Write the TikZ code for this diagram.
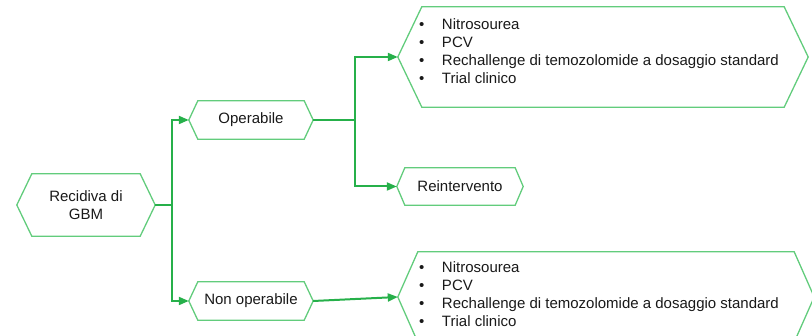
\documentclass[tikz,border=0pt]{standalone}
\usepackage{fontspec}
\setmainfont{Liberation Sans}
\usetikzlibrary{arrows.meta}
\definecolor{linegreen}{RGB}{38,176,74}
\definecolor{boxgreen}{RGB}{98,204,124}
\definecolor{textgray}{RGB}{25,25,25}
\newcommand\hexframe[2]{\draw[boxline] (#1.west) -- ([xshift=#2]#1.north west) -- ([xshift=-#2]#1.north east) -- (#1.east) -- ([xshift=-#2]#1.south east) -- ([xshift=#2]#1.south west) -- cycle;}
\newcommand\bul{\makebox[23pt][l]{\textbullet}}
\tikzset{
	hexnode/.style={inner sep=0pt, font=\fontsize{15}{18}\selectfont, text=textgray, align=center},
	conn/.style={draw=linegreen, line width=2pt},
	connarrow/.style={conn, -{Triangle[length=10pt,width=8pt]}},
	boxline/.style={draw=boxgreen, line width=1.3pt, line join=miter}
}

\begin{document}
\begin{tikzpicture}[x=1pt,y=-1pt]
				%%%%% START %%%%%
				\def\xsplitone{172}
				\def\xsplittwo{355}
				\useasboundingbox (0,0) rectangle (812,336);
				
				\node[hexnode, minimum width=138pt, minimum height=62pt] (recidiva) at (86,205) {Recidiva di\\GBM};
				\hexframe{recidiva}{15pt}
				
				\node[hexnode, minimum width=124pt, minimum height=38pt] (operabile) at (251,120) {Operabile};
				\hexframe{operabile}{9pt}
				\node[hexnode, minimum width=124pt, minimum height=38pt] (nonoperabile) at (251,301) {Non operabile};
				\hexframe{nonoperabile}{9pt}
				
				\node[hexnode, minimum width=410pt, minimum height=100pt] (terapieop) at (603,57) {\parbox[c][76pt][t]{368pt}{\raggedright\bul Nitrosourea\\\bul PCV\\\bul Rechallenge di temozolomide a dosaggio standard\\\bul Trial clinico}};
				\hexframe{terapieop}{24pt}
				\node[hexnode, minimum width=126pt, minimum height=37pt] (reintervento) at (460,186.5) {Reintervento};
				\hexframe{reintervento}{8pt}
				\node[hexnode, minimum width=416pt, minimum height=90pt] (terapienonop) at (606,297) {\parbox[c][70pt][t]{374pt}{\raggedright\bul Nitrosourea\\\bul PCV\\\bul Rechallenge di temozolomide a dosaggio standard\\\bul Trial clinico}};
				\hexframe{terapienonop}{20pt}
				
				\coordinate (splitone) at (\xsplitone,205);
				\coordinate (splittwo) at (\xsplittwo,120);
				
				\draw[conn] (recidiva.east) -- (splitone);
				\draw[connarrow] (splitone) |- (operabile.west);
				\draw[connarrow] (splitone) |- (nonoperabile.west);
				
				\draw[conn] (operabile.east) -- (splittwo);
				\draw[connarrow] (splittwo) |- (terapieop.west);
				\draw[connarrow] (splittwo) |- (reintervento.west);
				
				\draw[connarrow] (nonoperabile.east) -- (terapienonop.west);
				%%%%% END %%%%%
\end{tikzpicture}
\end{document}
